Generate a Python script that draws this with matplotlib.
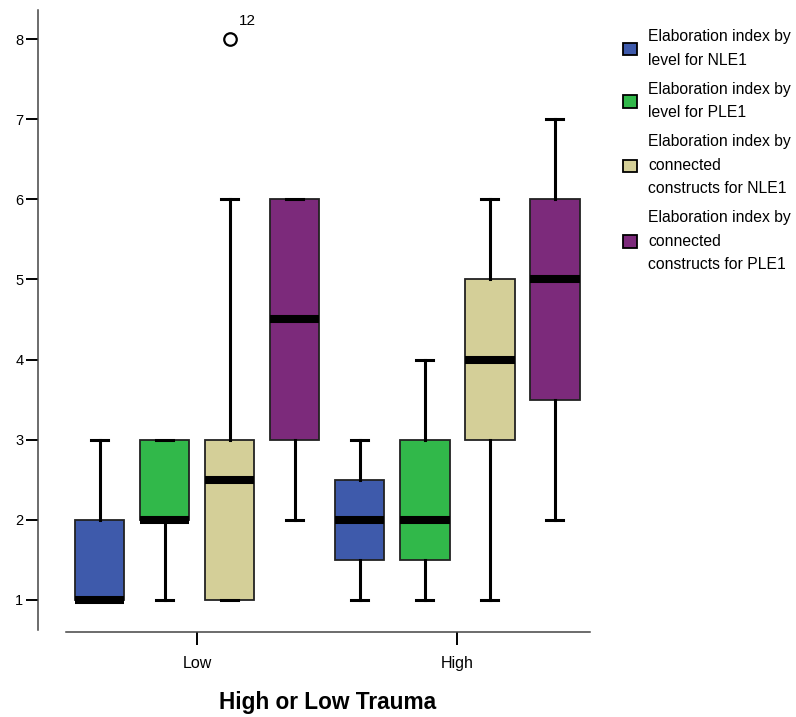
import matplotlib.pyplot as plt
from matplotlib.patches import Patch

plt.rcParams['font.family'] = ['Liberation Sans', 'DejaVu Sans']

# data
groups = ["Low", "High"]
series = ["Elaboration index by\nlevel for NLE1",
          "Elaboration index by\nlevel for PLE1",
          "Elaboration index by\nconnected\nconstructs for NLE1",
          "Elaboration index by\nconnected\nconstructs for PLE1"]
colors = ["#3E5AAB", "#31B84A", "#D4CF98", "#7C2A7B"]

# per group, per series: whislo, q1, med, q3, whishi
low_stats = [[1, 1, 1, 2, 3],
             [1, 2, 2, 3, 3],
             [1, 1, 2.5, 3, 6],
             [2, 3, 4.5, 6, 6]]
high_stats = [[1, 1.5, 2, 2.5, 3],
              [1, 1.5, 2, 3, 4],
              [1, 3, 4, 5, 6],
              [2, 3.5, 5, 6, 7]]
low_fliers = [[], [], [8], []]
high_fliers = [[], [], [], []]
outlier_label = "12"

offsets = [-0.375, -0.125, 0.125, 0.375]

fig = plt.figure(figsize=(7.96, 7.17), dpi=100)
ax = fig.add_axes([38 / 796, 1 - 632 / 717, 552 / 796, 622 / 717])

for gi, (stats, fl) in enumerate([(low_stats, low_fliers), (high_stats, high_fliers)]):
    for si in range(4):
        lo, q1, med, q3, hi = stats[si]
        d = dict(whislo=lo, q1=q1, med=med, q3=q3, whishi=hi, fliers=fl[si])
        ax.bxp([d], positions=[gi + offsets[si]], widths=0.19, capwidths=0.066,
               patch_artist=True, showfliers=True,
               boxprops=dict(facecolor=colors[si], edgecolor="#222222", linewidth=1.3),
               medianprops=dict(color="black", linewidth=5.8, solid_capstyle="butt"),
               whiskerprops=dict(color="black", linewidth=2.2),
               capprops=dict(color="black", linewidth=2.2),
               flierprops=dict(marker="o", markerfacecolor="none", markeredgecolor="black",
                               markersize=9, markeredgewidth=1.6),
               manage_ticks=False, zorder=2)

# case number next to the outlier
ax.text(0.125 + 0.037, 8.23, outlier_label, fontsize=11, ha="left", va="center")

ax.set_xlim(-0.612, 1.51)
ax.set_ylim(0.600, 8.362)
ax.set_xticks([0, 1])
ax.set_xticklabels(groups, fontsize=11.5)
ax.set_yticks(range(1, 9))
ax.tick_params(axis="y", direction="out", length=8.6, width=1.4, labelsize=10.5, pad=2)
ax.tick_params(axis="x", direction="out", length=9.5, width=1.4, labelsize=11.5, pad=8)

for s in ["top", "right"]:
    ax.spines[s].set_visible(False)
ax.spines["left"].set_bounds(0.625, 8.362)
ax.spines["bottom"].set_bounds(-0.504, 1.51)
ax.spines["left"].set_color("#444444")
ax.spines["bottom"].set_color("#444444")
ax.spines["left"].set_linewidth(1.1)
ax.spines["bottom"].set_linewidth(1.1)

# title centred under the bottom axis line, not the whole axes
ax.set_xlabel("High or Low Trauma", fontsize=16.3, fontweight="bold")
ax.xaxis.set_label_coords((328 - 38) / 552, -0.095)

handles = [Patch(facecolor=c, edgecolor="black", linewidth=1.3) for c in colors]
leg = fig.legend(handles, series, loc="upper left", bbox_to_anchor=(617 / 796, 1 - 23 / 717),
                 frameon=False, fontsize=11.3, handlelength=0.85, handleheight=0.85,
                 handletextpad=0.75, labelspacing=0.9, borderaxespad=0)
for t in leg.get_texts():
    t.set_linespacing(1.7)

fig.savefig("out.png", dpi=100)
